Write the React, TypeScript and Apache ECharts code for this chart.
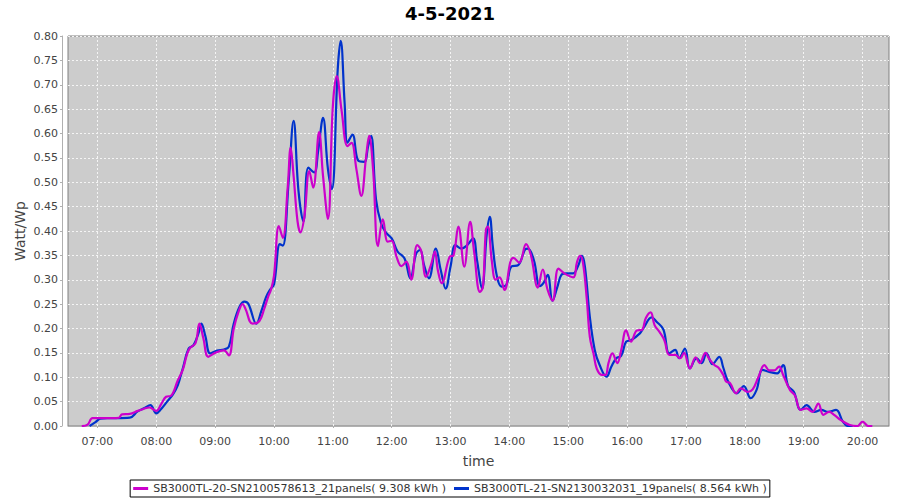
import React, { useEffect, useRef } from "react";
import * as echarts from "echarts";

const chartTitle = "4-5-2021";
const magentaName = "SB3000TL-20-SN2100578613_21panels( 9.308 kWh )";
const blueName = "SB3000TL-21-SN2130032031_19panels( 8.564 kWh )";

const magentaTimes = [
  "06:44","06:50","06:55","07:05","07:15","07:22","07:25","07:33","07:41","07:47","07:53","08:00","08:05","08:10","08:15","08:22","08:27","08:31","08:34","08:40","08:44","08:48","08:53","09:00","09:09","09:14","09:19","09:24","09:28","09:31","09:38","09:45","09:50","09:54","09:57",
  "10:00","10:05","10:09","10:14","10:17","10:20","10:24","10:27","10:31","10:36","10:40","10:46","10:50","10:55","11:00","11:04","11:09","11:15","11:19","11:24","11:29","11:34","11:37","11:41","11:46","11:51","11:56",
  "12:00","12:05","12:10","12:15","12:20","12:26","12:30","12:35","12:40","12:44","12:47","12:51","12:59","13:03","13:08","13:14","13:20","13:24","13:30","13:33","13:36","13:38","13:42","13:46","13:50","13:55",
  "14:01","14:04","14:10","14:17","14:22","14:29","14:34","14:39","14:44","14:50","14:56","15:05","15:09","15:12","15:15","15:19","15:22","15:26","15:29","15:34","15:38","15:41","15:45","15:50","15:54","15:59",
  "16:04","16:10","16:15","16:19","16:24","16:28","16:33","16:38","16:43","16:49","16:54","16:58","17:04","17:10","17:14","17:20","17:23","17:29","17:33","17:38","17:41","17:45","17:51","17:56",
  "18:03","18:08","18:14","18:20","18:25","18:30","18:35","18:39","18:46","18:51","18:57","19:03","19:09","19:15","19:20","19:26","19:31","19:38","19:47","19:55","20:00","20:06","20:10"
];
const magentaValues = [
  0,0.003,0.016,0.016,0.016,0.017,0.024,0.025,0.031,0.035,0.038,0.031,0.045,0.06,0.062,0.094,0.115,0.145,0.159,0.17,0.21,0.18,0.142,0.15,0.155,0.145,0.2,0.235,0.25,0.24,0.21,0.215,0.24,0.265,0.28,
  0.308,0.41,0.386,0.49,0.571,0.513,0.42,0.397,0.43,0.523,0.489,0.603,0.513,0.425,0.656,0.718,0.646,0.574,0.581,0.527,0.472,0.554,0.595,0.527,0.369,0.424,0.378,
  0.38,0.347,0.328,0.337,0.3,0.371,0.36,0.306,0.33,0.358,0.32,0.293,0.347,0.35,0.409,0.327,0.419,0.358,0.275,0.285,0.402,0.409,0.34,0.3,0.305,0.279,
  0.337,0.345,0.335,0.373,0.35,0.284,0.321,0.279,0.257,0.323,0.313,0.305,0.337,0.349,0.335,0.258,0.183,0.146,0.118,0.105,0.105,0.129,0.149,0.129,0.156,0.196,
  0.173,0.196,0.197,0.221,0.233,0.207,0.193,0.176,0.146,0.146,0.139,0.15,0.118,0.141,0.129,0.15,0.14,0.125,0.12,0.105,0.091,0.088,0.067,0.077,
  0.07,0.075,0.101,0.125,0.114,0.114,0.122,0.105,0.074,0.063,0.033,0.036,0.029,0.046,0.023,0.029,0.023,0.012,0.002,0,0.009,0,0
];

const blueTimes = [
  "06:52","06:58","07:03","07:10","07:20","07:33","07:41","07:48","07:54","08:00","08:05","08:11","08:17","08:22","08:27","08:33","08:38","08:43","08:46","08:50","08:55","09:02","09:09","09:14","09:19","09:25","09:30","09:34","09:42","09:47","09:52","09:56",
  "10:00","10:06","10:09","10:15","10:20","10:25","10:30","10:35","10:41","10:45","10:50","10:55","10:59","11:05","11:08","11:12","11:15","11:20","11:26","11:32","11:36","11:39","11:44","11:49","11:54",
  "12:00","12:06","12:13","12:19","12:25","12:29","12:33","12:38","12:45","12:50","12:55","13:00","13:05","13:11","13:17","13:23","13:27","13:32","13:37","13:40","13:43","13:47","13:52","13:57",
  "14:02","14:09","14:16","14:19","14:25","14:31","14:35","14:39","14:44","14:49","14:53","14:58","15:05","15:10","15:14","15:17","15:22","15:27","15:32","15:39","15:44","15:49","15:54","15:59",
  "16:04","16:13","16:17","16:25","16:30","16:37","16:43","16:49","16:53","16:59","17:04","17:11","17:16","17:21","17:27","17:34","17:38","17:43","17:52","17:59",
  "18:06","18:12","18:18","18:25","18:33","18:39","18:44","18:50","18:57","19:03","19:11","19:18","19:25","19:33","19:40","19:45","19:50"
];
const blueValues = [
  0,0.008,0.015,0.016,0.016,0.017,0.03,0.037,0.043,0.026,0.035,0.05,0.065,0.084,0.118,0.159,0.166,0.19,0.21,0.185,0.149,0.155,0.157,0.163,0.21,0.245,0.255,0.25,0.21,0.235,0.265,0.28,
  0.29,0.373,0.37,0.503,0.626,0.482,0.42,0.53,0.52,0.564,0.632,0.527,0.486,0.732,0.79,0.663,0.581,0.598,0.544,0.542,0.574,0.595,0.465,0.417,0.397,
  0.385,0.358,0.344,0.303,0.354,0.361,0.33,0.303,0.364,0.32,0.282,0.327,0.371,0.364,0.371,0.385,0.34,0.282,0.395,0.429,0.37,0.31,0.286,0.29,
  0.327,0.33,0.362,0.364,0.34,0.287,0.294,0.31,0.257,0.286,0.31,0.313,0.313,0.328,0.349,0.327,0.224,0.156,0.125,0.101,0.122,0.139,0.144,0.173,
  0.176,0.19,0.202,0.223,0.214,0.198,0.149,0.156,0.139,0.159,0.118,0.139,0.129,0.149,0.127,0.142,0.12,0.091,0.067,0.082,
  0.057,0.074,0.115,0.111,0.108,0.125,0.083,0.07,0.033,0.043,0.029,0.033,0.029,0.033,0.009,0,0
];

const hourTicks = ["07:00","08:00","09:00","10:00","11:00","12:00","13:00","14:00","15:00","16:00","17:00","18:00","19:00","20:00"];
const axisStart = "06:30";
const axisEnd = "20:27";

const toMin = (s: string) => {
  const [h, m] = s.split(":").map(Number);
  return h * 60 + m;
};
const fmt = (v: number) => {
  const h = Math.floor(v / 60);
  const m = Math.round(v - h * 60);
  return String(h).padStart(2, "0") + ":" + String(m).padStart(2, "0");
};

const FONT = "DejaVu Sans";

export default function App() {
  const ref = useRef<HTMLDivElement>(null);
  useEffect(() => {
    if (!ref.current) return;
    const chart = echarts.init(ref.current, null, { renderer: "svg" });
    const tickVals = hourTicks.map(toMin);
    const magentaData = magentaTimes.map((t, i) => [toMin(t), magentaValues[i]]);
    const blueData = blueTimes.map((t, i) => [toMin(t), blueValues[i]]);
    chart.setOption({
      animation: false,
      backgroundColor: "#ffffff",
      title: {
        text: chartTitle,
        left: "center",
        top: -1,
        textStyle: { fontFamily: FONT, fontSize: 18, fontWeight: "bold", color: "#000" },
      },
      legend: {
        data: [magentaName, blueName],
        left: "center",
        bottom: 3,
        orient: "horizontal",
        icon: "rect",
        itemWidth: 15,
        itemHeight: 3,
        itemGap: 8,
        padding: [3, 3],
        borderColor: "#000",
        borderWidth: 1,
        backgroundColor: "#fff",
        textStyle: { fontFamily: FONT, fontSize: 11, color: "#333" },
      },
      grid: {
        left: 68,
        top: 36,
        right: 11,
        bottom: 74,
        show: true,
        backgroundColor: "#cccccc",
        borderColor: "#808080",
        borderWidth: 1,
      },
      xAxis: {
        type: "value",
        min: toMin(axisStart),
        max: toMin(axisEnd),
        offset: 4,
        name: "time",
        nameLocation: "middle",
        nameGap: 24,
        nameTextStyle: { fontFamily: FONT, fontSize: 14, color: "#444" },
        axisLine: { show: true, lineStyle: { color: "#b0b0b0" } },
        axisTick: { show: true, length: 2, customValues: tickVals, lineStyle: { color: "#b0b0b0" } },
        axisLabel: {
          customValues: tickVals,
          formatter: (v: number) => fmt(v),
          fontFamily: FONT,
          fontSize: 11,
          color: "#444",
          margin: 6,
        },
        splitLine: { show: true, lineStyle: { color: "#f4f4f4", type: [2, 2], width: 1 } },
      },
      yAxis: {
        type: "value",
        min: 0,
        max: 0.8,
        interval: 0.05,
        offset: 6,
        name: "Watt/Wp",
        nameLocation: "middle",
        nameGap: 35,
        nameMoveOverlap: false,
        nameTextStyle: { fontFamily: FONT, fontSize: 14, color: "#444" },
        axisLine: { show: true, lineStyle: { color: "#b0b0b0" } },
        axisTick: { show: true, length: 2, lineStyle: { color: "#b0b0b0" } },
        axisLabel: {
          formatter: (v: number) => v.toFixed(2),
          fontFamily: FONT,
          fontSize: 11,
          color: "#444",
          margin: 4,
        },
        splitLine: { show: true, lineStyle: { color: "#f4f4f4", type: [2, 2], width: 1 } },
      },
      series: [
        {
          name: blueName,
          type: "line",
          data: blueData,
          smooth: 0.4,
          showSymbol: false,
          color: "#0033cc",
          lineStyle: { color: "#0033cc", width: 2.2 },
        },
        {
          name: magentaName,
          type: "line",
          data: magentaData,
          smooth: 0.4,
          showSymbol: false,
          color: "#cc00cc",
          lineStyle: { color: "#cc00cc", width: 2.2 },
        },
      ],
    });
    return () => chart.dispose();
  }, []);
  return <div ref={ref} style={{ position: "absolute", left: 0, top: 0, width: 900, height: 500 }} />;
}
